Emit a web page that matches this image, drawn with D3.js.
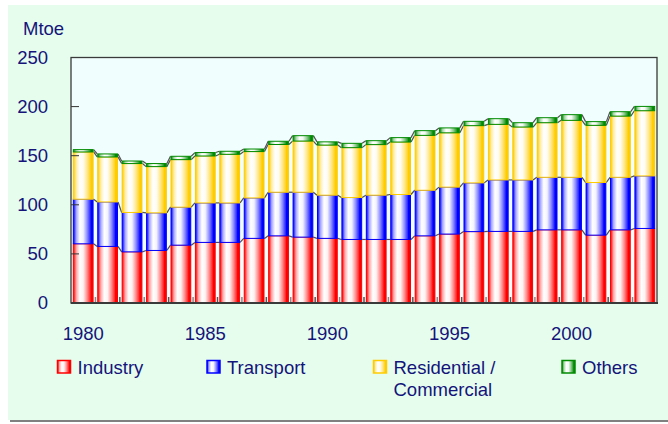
<!DOCTYPE html>
<html><head><meta charset="utf-8">
<script src="https://cdn.jsdelivr.net/npm/d3@7"></script>
<style>
html,body{margin:0;padding:0;background:#fff;}
svg{display:block;font-family:"Liberation Sans",Arial,sans-serif;}
</style></head>
<body><svg id="c" width="668" height="424"></svg>
<script>
const years = [1980,1981,1982,1983,1984,1985,1986,1987,1988,1989,1990,1991,1992,1993,1994,1995,1996,1997,1998,1999,2000,2001,2002,2003];
const industry    = [60.3,57.6,52.1,53.5,58.9,61.7,61.7,65.8,68.4,67.1,65.8,64.7,64.7,64.7,68.4,70.2,72.7,72.9,72.9,74.5,74.5,69.1,74.5,75.9];
const transport   = [45.4,45.3,40.1,38.3,38.7,40.2,40.2,41.2,44.4,45.7,44.0,42.7,45.1,45.8,46.4,47.8,49.6,52.4,52.4,53.5,53.5,53.6,53.5,53.5];
const residential = [48.1,45.8,49.8,47.1,48.4,47.8,49.5,47.2,48.6,52.1,51.0,50.8,51.5,53.4,55.9,55.3,58.3,56.6,53.9,55.6,58.0,58.2,62.3,66.4];
const others      = [2.4,3.1,2.6,3.1,3.4,3.5,3.1,2.6,3.3,5.5,3.3,4.4,4.0,4.5,4.8,5.0,4.4,5.8,4.4,5.1,5.8,3.8,4.5,4.4];
const seriesNames = ["Industry","Transport","Residential /\nCommercial","Others"];
const yTicks = [0,50,100,150,200,250];
const xLabels = [1980,1985,1990,1995,2000];
const colors = ["#ff0000","#0000ff","#ffcc00","#008a00"];

const svg = d3.select("#c");
const textColor = "#14147a";

// panel
svg.append("rect").attr("x",10).attr("y",419).attr("width",658).attr("height",3).attr("fill","#808080");
svg.append("rect").attr("x",8).attr("y",5).attr("width",660).attr("height",415).attr("fill","#e6fdee");

const L = 71, R = 657, T = 57.5, B = 303;
svg.append("rect").attr("x",L).attr("y",T).attr("width",R-L).attr("height",B-T).attr("fill","#f0fffd");

const x = d3.scaleBand().domain(years).range([L,R]).paddingInner(0.15).paddingOuter(0.075);
const y = d3.scaleLinear().domain([0,250]).range([B,T]);

// gradients
const defs = svg.append("defs");
colors.forEach((c,i)=>{
  const g = defs.append("linearGradient").attr("id","g"+i).attr("x1","0").attr("x2","1").attr("y1","0").attr("y2","0");
  const mix = t => d3.interpolateRgb(c,"#ffffff")(t);
  [[0,0],[0.05,0.2],[0.15,0.65],[0.33,1],[0.5,0.95],[0.7,0.55],[0.85,0.18],[0.9,0],[1,0]].forEach(([o,t])=>{
    g.append("stop").attr("offset",o).attr("stop-color",mix(t));
  });
});

const data = years.map((yr,i)=>({year:yr, Industry:industry[i], Transport:transport[i], Residential:residential[i], Others:others[i]}));
const keys = ["Industry","Transport","Residential","Others"];
const stack = d3.stack().keys(keys)(data);

// series lines
stack.forEach((s,si)=>{
  for(let i=0;i<s.length-1;i++){
    svg.append("line")
      .attr("x1",x(years[i])+x.bandwidth()).attr("y1",y(s[i][1]))
      .attr("x2",x(years[i+1])).attr("y2",y(s[i+1][1]))
      .attr("stroke","#505050").attr("stroke-width",1.2);
  }
});

stack.forEach((s,si)=>{
  svg.append("g").selectAll("rect").data(s).join("rect")
    .attr("x",(d,i)=>x(years[i])+0.5)
    .attr("y",d=>y(d[1]))
    .attr("width",x.bandwidth()-1)
    .attr("height",d=>y(d[0])-y(d[1]))
    .attr("fill","url(#g"+si+")")
    .attr("stroke",colors[si]).attr("stroke-width",1);
});

// bottom ticks at band boundaries
const step = x.step();
for(let i=1;i<years.length;i++){
  const xx = x(years[i]) - (step - x.bandwidth())/2;
  svg.append("line").attr("x1",xx).attr("x2",xx).attr("y1",B).attr("y2",B-6)
    .attr("stroke",i%2? "#8a8a8a":"#555").attr("stroke-width",1.5);
}

// left y ticks inside
yTicks.filter(t=>t>0 && t<250).forEach(t=>{
  svg.append("line").attr("x1",L).attr("x2",L+8).attr("y1",y(t)).attr("y2",y(t)).attr("stroke","#333").attr("stroke-width",1);
});

// frame
svg.append("rect").attr("x",L).attr("y",T).attr("width",R-L).attr("height",B-T)
  .attr("fill","none").attr("stroke","#3a3a3a").attr("stroke-width",1.3);
svg.append("line").attr("x1",L).attr("x2",R+1).attr("y1",B).attr("y2",B).attr("stroke","#3a3a3a").attr("stroke-width",2);

// y labels
svg.append("g").selectAll("text").data(yTicks).join("text")
  .attr("x",48).attr("y",d=>y(d)+1.5).attr("text-anchor","end").attr("dominant-baseline","middle")
  .attr("font-size",18.5).attr("fill",textColor).text(d=>d);
svg.append("text").attr("x",23).attr("y",35).attr("font-size",18.5).attr("fill",textColor).text("Mtoe");

// x labels
svg.append("g").selectAll("text").data(xLabels).join("text")
  .attr("x",d=>x(d)+x.bandwidth()/2).attr("y",339.5).attr("text-anchor","middle")
  .attr("font-size",18.5).attr("fill",textColor).text(d=>d);

// legend
const legX = [57.5,207,373.5,562];
seriesNames.forEach((n,i)=>{
  const g = svg.append("g");
  g.append("rect").attr("x",legX[i]).attr("y",360.5).attr("width",13).attr("height",12.5)
    .attr("fill","url(#g"+i+")").attr("stroke",colors[i]).attr("stroke-width",1.5);
  const t = g.append("text").attr("x",legX[i]+20).attr("y",373.5).attr("font-size",18.5).attr("fill",textColor);
  n.split("\n").forEach((line,j)=>{
    t.append("tspan").attr("x",legX[i]+20).attr("dy",j?22.5:0).text(line);
  });
});
</script></body></html>
